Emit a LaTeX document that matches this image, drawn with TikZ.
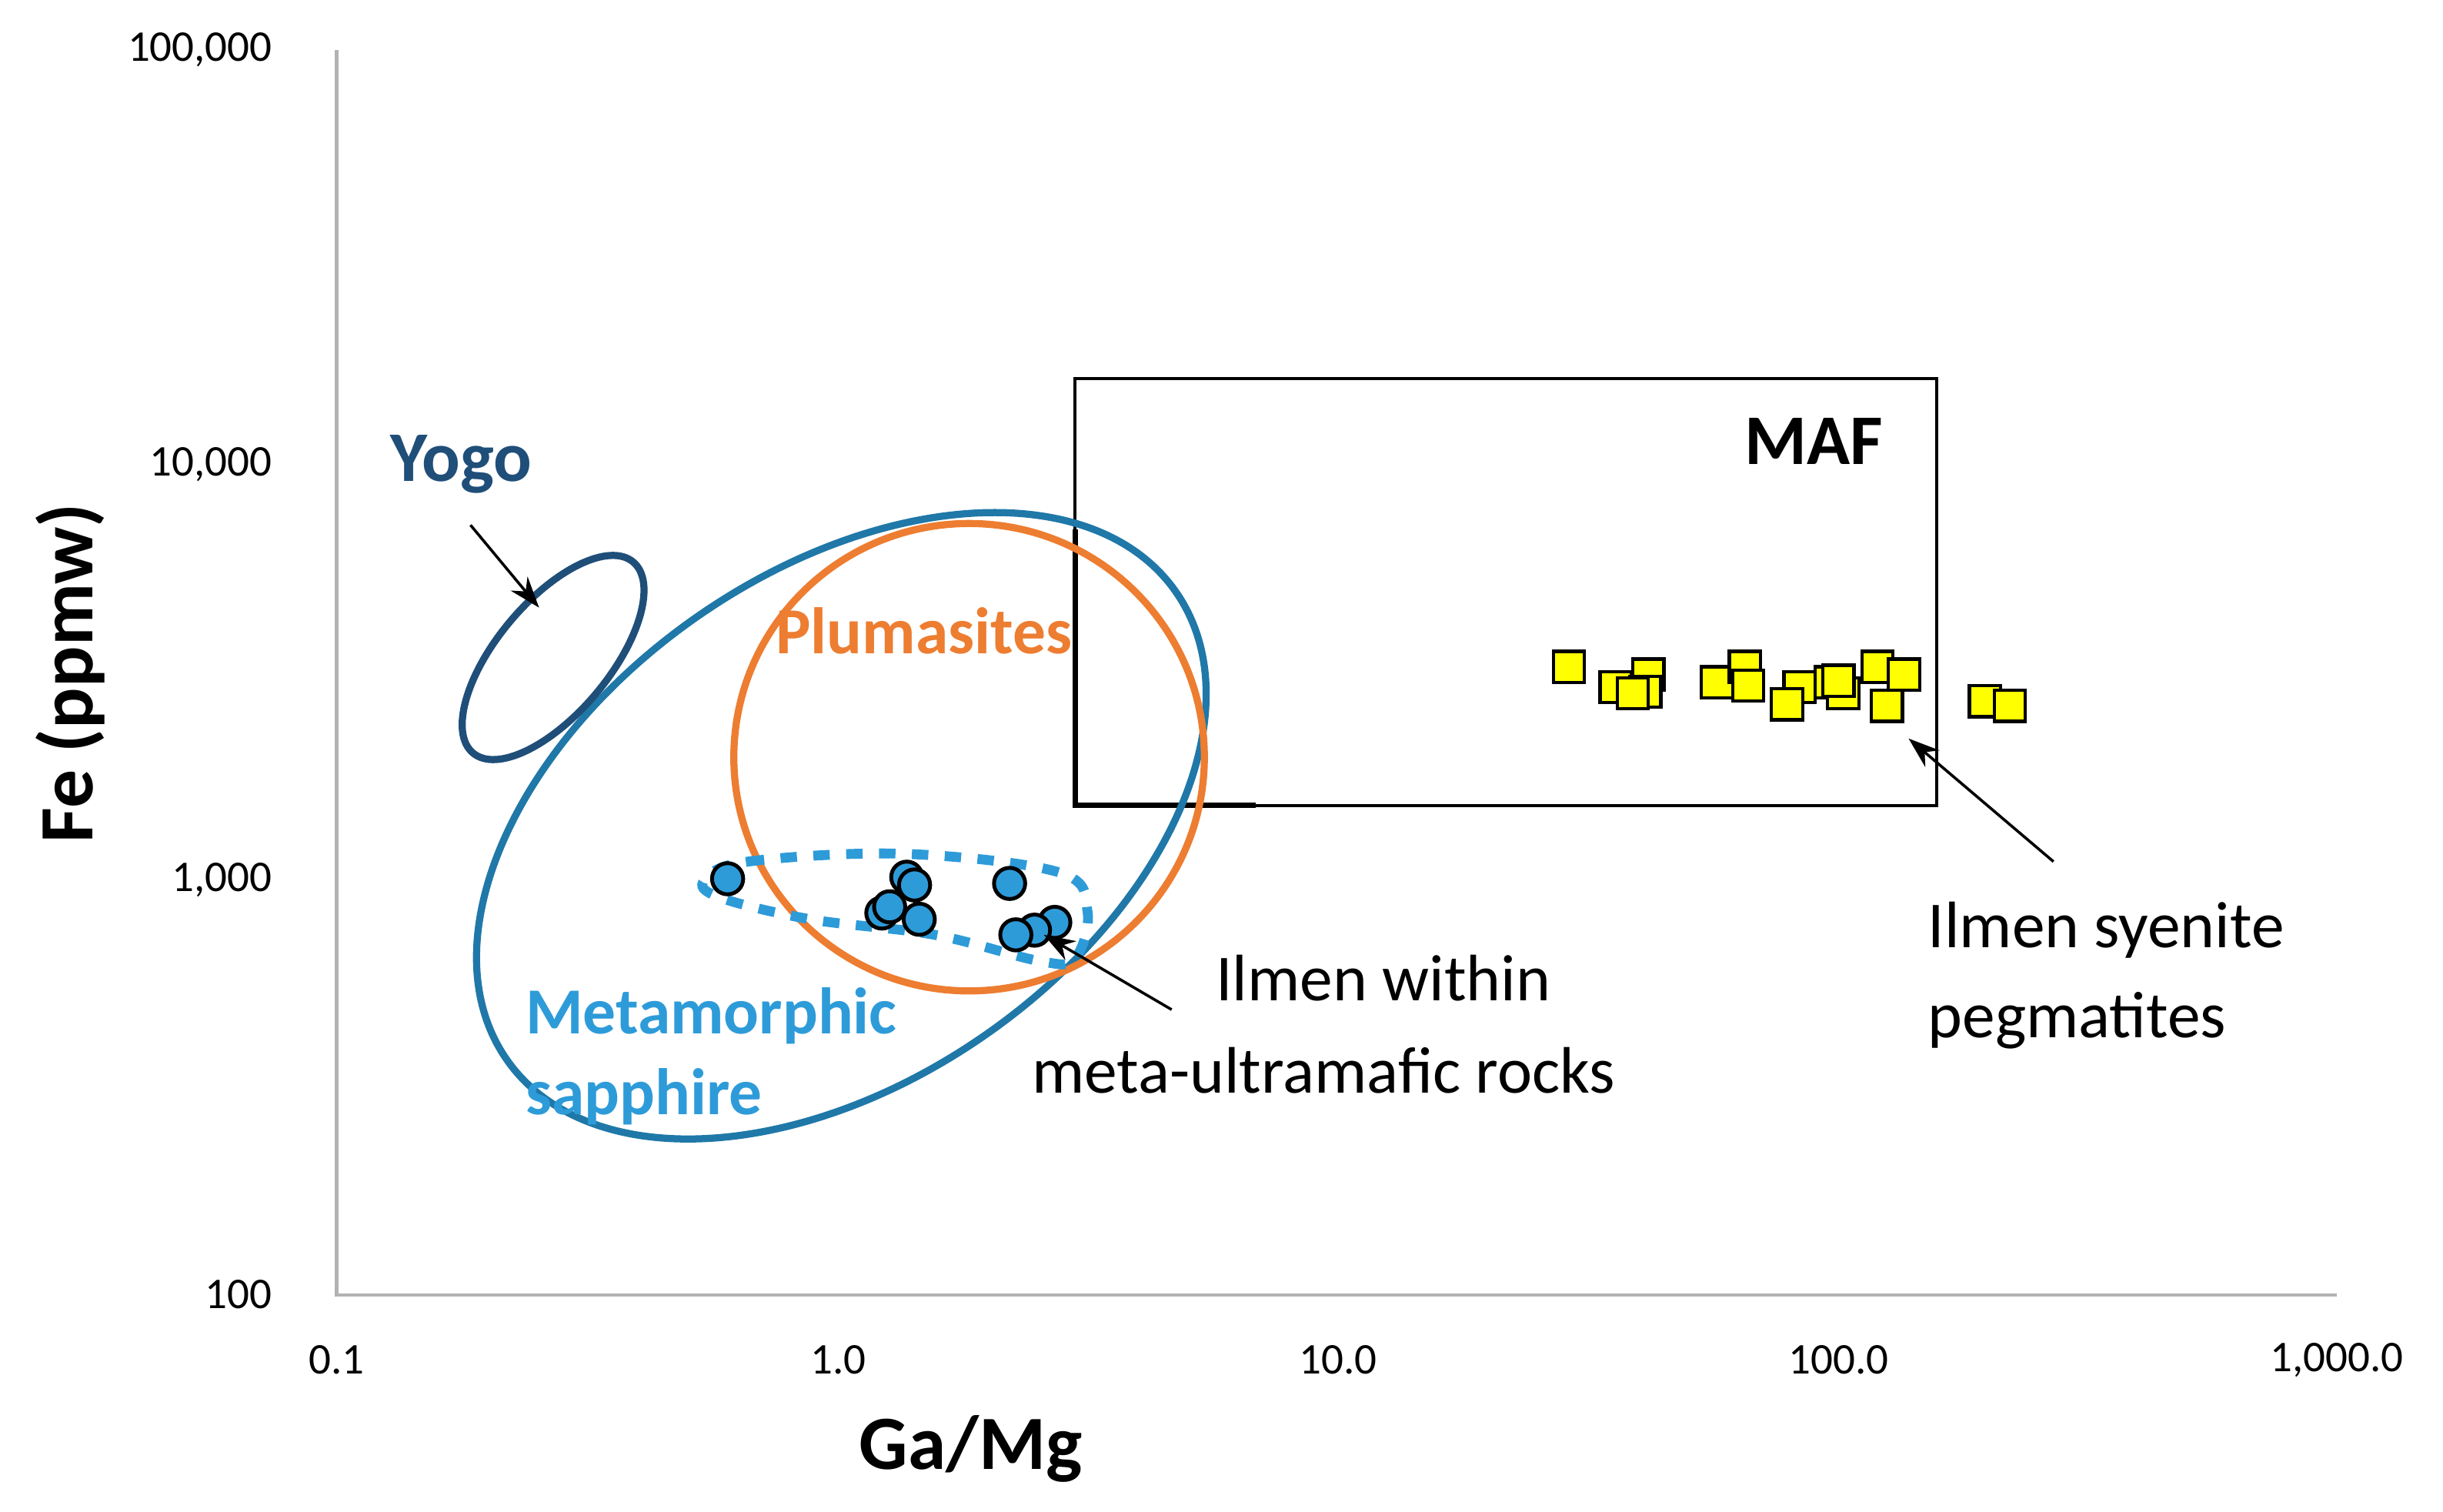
\documentclass[tikz,border=0pt]{standalone}
\usepackage{fontspec}
\setmainfont{Carlito}
\usetikzlibrary{arrows.meta}
\definecolor{navy}{HTML}{1F4E79}
\definecolor{teal}{HTML}{1F78A8}
\definecolor{orng}{HTML}{ED7D31}
\definecolor{lblue}{HTML}{2E9BD9}
\definecolor{ylw}{HTML}{FFFF00}
\tikzset{
 tick/.style={font=\fontsize{8}{9}\selectfont, text=black},
 lab/.style={font=\fontsize{12}{14}\selectfont, anchor=west},
 dot/.style={circle, draw=black, fill=lblue, line width=0.7pt, minimum size=0.2cm, inner sep=0pt},
 sq/.style={rectangle, draw=black, fill=ylw, line width=0.6pt, minimum size=0.2cm, inner sep=0pt},
 arr/.style={-{Stealth[length=0.2cm,width=0.14cm]}, line width=0.5pt}
}
\begin{document}
\begin{tikzpicture}[x=0.01cm,y=-0.01cm]
\useasboundingbox (0,0) rectangle (1568,970);
% axes
\draw[gray!60, line width=0.6pt] (216,32) -- (216,831) -- (1500,831);
\foreach \y/\t in {32/{100,000},298/{10,000},565/{1,000},831/100}
  \node[tick, anchor=east] at (187,\y) {\t};
\foreach \x/\t in {216/0.1,538/1.0,859/10.0,1180/100.0,1500/{1,000.0}}
  \node[tick] at (\x,873) {\t};
\node[font=\bfseries\fontsize{14}{16}\selectfont] (xt) at (623,930) {Ga/Mg};
\node[font=\bfseries\fontsize{14}{16}\selectfont, rotate=90] (yt) at (45,432) {Fe (ppmw)};
% MAF box
\draw[line width=0.5pt] (690,243) rectangle (1243,517);
\draw[line width=1pt] (690,340) -- (690,517) -- (806,517);
\node[font=\bfseries\fontsize{13}{15}\selectfont] (maf) at (1164,283) {MAF};
% ellipses
\draw[teal, line width=1.3pt, rotate around={35:(540,530)}] (540,530) ellipse [x radius=262, y radius=163];
\draw[orng, line width=1.3pt] (622,486) ellipse [x radius=151, y radius=150];
\draw[navy, line width=1.3pt, rotate around={50:(355,422)}] (355,422) ellipse [x radius=80, y radius=36];
\draw[lblue, line width=1.8pt, dashed] plot[smooth cycle, tension=0.6] coordinates
 {(452,565) (480,553) (580,548) (680,560) (698,585) (690,615) (668,617) (600,600) (520,590) (462,576)};
% dots
\foreach \x/\y [count=\i] in {467/564,582/563,587/568,566/586,571/582,590/590,648/567,677/592,664/597,652/600}
  \node[dot] (d\i) at (\x,\y) {};
\foreach \x/\y [count=\i] in {1007/428,1037/441,1058/433,1056/444,1048/445,1102/438,1120/428,1122/440,1155/441,1147/452,1175/438,1183/445,1205/428,1222/433,1211/453,1274/450,1290/453,1180/437}
  \node[sq] (s\i) at (\x,\y) {};
% labels
\node[font=\bfseries\fontsize{13}{15}\selectfont, text=navy] (yogo) at (296,298) {Yogo};
\node[font=\bfseries\fontsize{12}{14}\selectfont, text=orng] (plum) at (593,405) {Plumasites};
\node[font=\bfseries\fontsize{12}{14}\selectfont, text=lblue, anchor=west] (meta1) at (325,652) {Metamorphic};
\node[font=\bfseries\fontsize{12}{14}\selectfont, text=lblue, anchor=west] (meta2) at (325,704) {sapphire};
\node[lab] (il1) at (768,628) {Ilmen within};
\node[lab] (il2) at (650,687) {meta-ultramafic rocks};
\node[lab] (sy1) at (1225,597) {Ilmen syenite};
\node[lab] (sy2) at (1225,655) {pegmatites};
% arrows
\coordinate (ya) at (346,390);
\coordinate (ia) at (670,600);
\coordinate (sa) at (1225,474);
\coordinate (ys) at (302,337);
\coordinate (is) at (752,648);
\coordinate (ss) at (1318,553);
\draw[arr] (ys) -- (ya);
\draw[arr] (is) -- (ia);
\draw[arr] (ss) -- (sa);
\end{tikzpicture}
\end{document}
